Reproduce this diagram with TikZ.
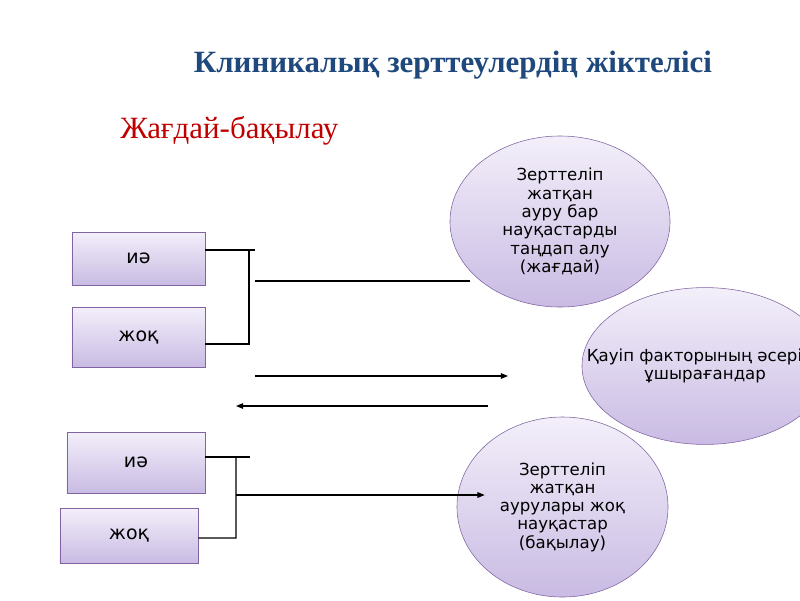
\documentclass[tikz,border=0pt]{standalone}
\usepackage{fontspec}
\setmainfont{Liberation Serif}
\newfontfamily\boxfont{DejaVu Sans}
\usepackage{tikz}
\usetikzlibrary{
  positioning,
  arrows.meta,
  shapes.geometric,
  calc
}
\definecolor{titleblue}{RGB}{31,73,125}
\definecolor{casered}{RGB}{192,0,0}
\definecolor{lilactop}{RGB}{243,239,250}
\definecolor{lilacbot}{RGB}{201,187,227}
\definecolor{lilacborder}{RGB}{128,100,162}
\tikzset{
  answerbox/.style={
    draw=lilacborder, top color=lilactop, bottom color=lilacbot,
    minimum width=3.35cm, minimum height=1.4cm,
    font=\boxfont\fontsize{13.5}{15}\selectfont, align=center
  },
  groupoval/.style={
    ellipse, draw=lilacborder, top color=lilactop, bottom color=lilacbot,
    inner sep=0pt, align=center,
    font=\boxfont\fontsize{11.8}{13}\selectfont
  },
  linkline/.style={
    line width=0.8pt, draw=black
  },
  linkarrow/.style={
    -{Triangle[length=1.8mm,width=1.4mm]}, line width=0.8pt, draw=black
  }
}

\begin{document}
\begin{tikzpicture}[x=0.025cm, y=-0.025cm]
  \useasboundingbox (0,0) rectangle (800,600);

  % headings
  \node[font=\fontsize{22}{26}\selectfont\bfseries, text=titleblue] (title) at (453,65) {Клиникалық зерттеулердің жіктелісі};
  \node[font=\fontsize{22}{26}\selectfont, text=casered, anchor=west, inner sep=0pt] (kind) at (120,131) {Жағдай-бақылау};

  % answer boxes
  \node[answerbox, minimum width=3.325cm, minimum height=1.325cm] (yes1) at (138.5,258.5) {иә};
  \node[answerbox, minimum width=3.325cm, minimum height=1.5cm] (no1) at (138.5,337) {жоқ};
  \node[answerbox, minimum width=3.45cm, minimum height=1.525cm] (yes2) at (136,462.5) {иә};
  \node[answerbox, minimum width=3.45cm, minimum height=1.375cm] (no2) at (129,535.5) {жоқ};

  % groups
  \node[groupoval, minimum width=5.5cm, minimum height=4.275cm] (cases) at (560,221.5) {Зерттеліп\\ жатқан\\ауру бар\\науқастарды\\ таңдап алу\\(жағдай)};
  \node[groupoval, minimum width=6.15cm, minimum height=3.92cm] (risk) at (705,366) {\makebox[0pt]{Қауіп факторының әсеріне}\\\makebox[0pt]{ұшырағандар}};
  \node[groupoval, minimum width=5.275cm, minimum height=4.5cm] (controls) at (562.5,507) {Зерттеліп\\жатқан\\аурулары жоқ\\ науқастар\\(бақылау)};

  % upper bracket
  \coordinate (upTop) at (255,250);
  \coordinate (upJoin) at (249,250);
  \coordinate (upBot) at (249,344);
  \draw[linkline] ($(yes1.east)+(0,-8.5)$) -- (upTop);
  \draw[linkline] (upJoin) -- (upBot) -- ($(no1.east)+(0,7)$);
  \coordinate (caseFrom) at (255,281);
  \coordinate (caseTo) at (470,281);
  \draw[linkline] (caseFrom) -- (caseTo);

  % exposure arrows
  \coordinate (fwdFrom) at (255,376);
  \coordinate (fwdTo) at (508,376);
  \coordinate (backFrom) at (488,406);
  \coordinate (backTo) at (236,406);
  \draw[linkarrow] (fwdFrom) -- (fwdTo);
  \draw[linkarrow] (backFrom) -- (backTo);

  % lower bracket
  \coordinate (lowTop) at (250,457);
  \coordinate (lowJoin) at (236,457);
  \coordinate (lowMid) at (236,495);
  \coordinate (lowBot) at (236,538);
  \draw[linkline] ($(yes2.east)+(0,-5.5)$) -- (lowTop);
  \draw[linkline] (lowJoin) -- (lowBot) -- ($(no2.east)+(0,2.5)$);
  \draw[linkarrow] (lowMid) -- ($(controls.west |- lowMid)+(28,0)$);

\end{tikzpicture}
\end{document}
